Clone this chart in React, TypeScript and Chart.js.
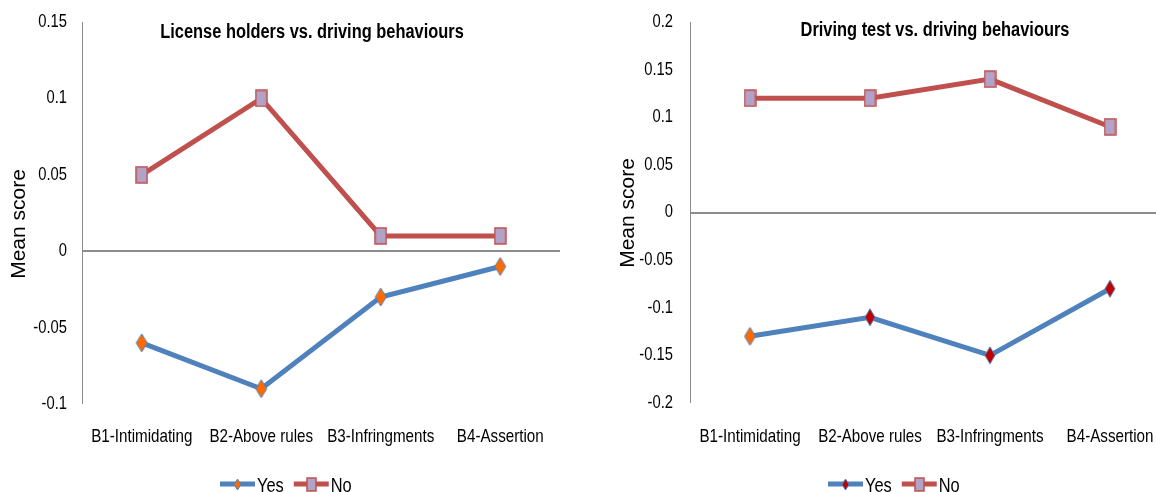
import React, { useEffect, useRef } from "react";
import { Chart, registerables } from "chart.js";

Chart.register(...registerables);

// ---------- data ----------
const categories = ["B1-Intimidating", "B2-Above rules", "B3-Infringments", "B4-Assertion"];
const seriesNames = ["Yes", "No"];
const licenseYes = [-0.06, -0.09, -0.03, -0.01];
const licenseNo = [0.05, 0.1, 0.01, 0.01];
const testYes = [-0.13, -0.11, -0.15, -0.08];
const testNo = [0.12, 0.12, 0.14, 0.09];
const licenseTicks = [-0.1, -0.05, 0, 0.05, 0.1, 0.15];
const testTicks = [-0.2, -0.15, -0.1, -0.05, 0, 0.05, 0.1, 0.15, 0.2];
const chartTitles = ["License holders vs. driving behaviours", "Driving test vs. driving behaviours"];
const yAxisTitle = "Mean score";

// ---------- styles ----------
const SANS = '"Liberation Sans", Arial, sans-serif';
const NARROW_SX = 0.82; // horizontal squeeze emulating a narrow face
const BLUE = "#4F81BD";
const RED = "#C0504D";
const ORANGE = "#FF6A00";
const DARKRED = "#C00000";
const LAVENDER = "#B3A2C7";
const AXIS_GRAY = "#8C8C8C";

function makeMarker(kind: string, w: number, h: number, fill: string, stroke: string, lw: number) {
  const c = document.createElement("canvas");
  c.width = w + 2;
  c.height = h + 2;
  const ctx = c.getContext("2d")!;
  const cx = c.width / 2;
  const cy = c.height / 2;
  ctx.fillStyle = fill;
  ctx.strokeStyle = stroke;
  ctx.lineWidth = lw;
  ctx.beginPath();
  if (kind === "diamond") {
    ctx.moveTo(cx, cy - h / 2);
    ctx.lineTo(cx + w / 2, cy);
    ctx.lineTo(cx, cy + h / 2);
    ctx.lineTo(cx - w / 2, cy);
    ctx.closePath();
  } else {
    ctx.rect(cx - w / 2, cy - h / 2, w, h);
  }
  ctx.fill();
  ctx.stroke();
  return c;
}

const orangeDiamond = makeMarker("diamond", 11, 18, ORANGE, BLUE, 1);
const redDiamond = makeMarker("diamond", 10, 17, DARKRED, BLUE, 1);
const lavSquare = makeMarker("square", 11, 16, LAVENDER, RED, 1.5);
const orangeDiamondSmall = makeMarker("diamond", 7, 11, ORANGE, BLUE, 1);
const redDiamondSmall = makeMarker("diamond", 7, 11, DARKRED, BLUE, 1);
const lavSquareSmall = makeMarker("square", 9, 13, LAVENDER, RED, 1.5);

function narrowText(ctx: CanvasRenderingContext2D, text: string, x: number, y: number, align: CanvasTextAlign, font: string) {
  ctx.save();
  ctx.translate(x, y);
  ctx.scale(NARROW_SX, 1);
  ctx.font = font;
  ctx.textAlign = align;
  ctx.textBaseline = "middle";
  ctx.fillStyle = "#000";
  ctx.fillText(text, 0, 0);
  const w = ctx.measureText(text).width * NARROW_SX;
  ctx.restore();
  return w;
}

type Cfg = {
  yes: number[];
  no: number[];
  ticks: number[];
  yesMarkers: HTMLCanvasElement[];
  yesLegendMarker: HTMLCanvasElement;
  title: string;
  titleX: number;
  titleY: number;
  axisW: number;
  tickPad: number;
  padRight: number;
  xHeight: number;
  xLabelOffset: number;
  yTitleX: number;
  yTitleY: number;
  legendX: number;
};

function buildConfig(c: Cfg): any {
  const textPlugin = {
    id: "customText",
    afterDraw(chart: any) {
      const ctx: CanvasRenderingContext2D = chart.ctx;
      const area = chart.chartArea;
      const xs = chart.scales.x;
      const ys = chart.scales.y;
      ctx.save();
      // title
      narrowText(ctx, c.title, c.titleX, c.titleY, "center", `bold 20px ${SANS}`);
      // y axis title
      ctx.save();
      ctx.translate(c.yTitleX, c.yTitleY);
      ctx.rotate(-Math.PI / 2);
      ctx.font = `21px ${SANS}`;
      ctx.textAlign = "center";
      ctx.textBaseline = "middle";
      ctx.fillStyle = "#000";
      ctx.fillText(yAxisTitle, 0, 0);
      ctx.restore();
      // category labels
      categories.forEach((lab, i) => {
        narrowText(ctx, lab, xs.getPixelForValue(i), area.bottom + c.xLabelOffset, "center", `18.5px ${SANS}`);
      });
      // value tick labels
      c.ticks.forEach((v) => {
        const s = String(Number(v.toFixed(2)));
        narrowText(ctx, s, area.left - c.tickPad, ys.getPixelForValue(v), "right", `18px ${SANS}`);
      });
      // legend
      const items = [
        { label: seriesNames[0], color: BLUE, marker: c.yesLegendMarker },
        { label: seriesNames[1], color: RED, marker: lavSquareSmall },
      ];
      const lineLen = 35;
      const y = 484;
      let x = c.legendX;
      items.forEach((it) => {
        ctx.strokeStyle = it.color;
        ctx.lineWidth = 5;
        ctx.lineCap = "butt";
        ctx.beginPath();
        ctx.moveTo(x, y);
        ctx.lineTo(x + lineLen, y);
        ctx.stroke();
        const m = it.marker;
        ctx.drawImage(m, Math.round(x + lineLen / 2 - m.width / 2), Math.round(y - m.height / 2));
        const w = narrowText(ctx, it.label, x + lineLen + 2, y + 2, "left", `20px ${SANS}`);
        x += lineLen + 2 + w + 10;
      });
      ctx.restore();
    },
  };

  return {
    type: "line",
    data: {
      labels: categories,
      datasets: [
        {
          label: seriesNames[0],
          data: c.yes,
          borderColor: BLUE,
          backgroundColor: BLUE,
          borderWidth: 5,
          pointStyle: c.yesMarkers,
          pointRadius: 6,
          pointHoverRadius: 6,
          fill: false,
          tension: 0,
        },
        {
          label: seriesNames[1],
          data: c.no,
          borderColor: RED,
          backgroundColor: RED,
          borderWidth: 5,
          pointStyle: lavSquare,
          pointRadius: 6,
          pointHoverRadius: 6,
          fill: false,
          tension: 0,
        },
      ],
    },
    options: {
      responsive: false,
      animation: false,
      events: [],
      layout: { padding: { left: 0, right: c.padRight, top: 22, bottom: 0 } },
      plugins: {
        legend: { display: false },
        title: { display: false },
        tooltip: { enabled: false },
      },
      scales: {
        x: {
          type: "category",
          offset: true,
          grid: { display: false },
          border: { display: false },
          ticks: { display: false },
          afterFit: (s: any) => {
            s.height = c.xHeight;
          },
        },
        y: {
          min: c.ticks[0],
          max: c.ticks[c.ticks.length - 1],
          afterBuildTicks: (s: any) => {
            s.ticks = c.ticks.map((v) => ({ value: v }));
          },
          grid: {
            color: (ctx: any) => (ctx.tick && Math.abs(ctx.tick.value) < 1e-9 ? AXIS_GRAY : "rgba(0,0,0,0)"),
            lineWidth: (ctx: any) => (ctx.tick && Math.abs(ctx.tick.value) < 1e-9 ? 2 : 0),
            drawTicks: false,
          },
          border: { display: true, color: AXIS_GRAY, width: 1 },
          ticks: { display: false },
          afterFit: (s: any) => {
            s.width = c.axisW;
          },
        },
      },
    },
    plugins: [textPlugin],
  };
}

function ChartCanvas({ cfg, width, height, left }: { cfg: Cfg; width: number; height: number; left: number }) {
  const ref = useRef<HTMLCanvasElement | null>(null);
  useEffect(() => {
    if (!ref.current) return;
    const chart = new Chart(ref.current, buildConfig(cfg));
    return () => chart.destroy();
  }, []);
  return (
    <canvas
      ref={ref}
      width={width}
      height={height}
      style={{ position: "absolute", left, top: 0 }}
    />
  );
}

const leftCfg: Cfg = {
  yes: licenseYes,
  no: licenseNo,
  ticks: licenseTicks,
  yesMarkers: [orangeDiamond, orangeDiamond, orangeDiamond, orangeDiamond],
  yesLegendMarker: orangeDiamondSmall,
  title: chartTitles[0],
  titleX: 312,
  titleY: 32,
  axisW: 82,
  tickPad: 15,
  padRight: 20,
  xHeight: 88,
  xLabelOffset: 33,
  yTitleX: 19,
  yTitleY: 224,
  legendX: 220,
};

const rightCfg: Cfg = {
  yes: testYes,
  no: testNo,
  ticks: testTicks,
  yesMarkers: [orangeDiamond, redDiamond, redDiamond, redDiamond],
  yesLegendMarker: redDiamondSmall,
  title: chartTitles[1],
  titleX: 355,
  titleY: 30,
  axisW: 110,
  tickPad: 17,
  padRight: 30,
  xHeight: 89,
  xLabelOffset: 34,
  yTitleX: 48,
  yTitleY: 213,
  legendX: 248,
};

export default function App() {
  return (
    <div
      style={{
        position: "fixed",
        left: 0,
        top: 0,
        width: 1156,
        height: 492,
        overflow: "hidden",
        background: "#fff",
      }}
    >
      <ChartCanvas cfg={leftCfg} width={580} height={492} left={0} />
      <ChartCanvas cfg={rightCfg} width={620} height={492} left={580} />
    </div>
  );
}
